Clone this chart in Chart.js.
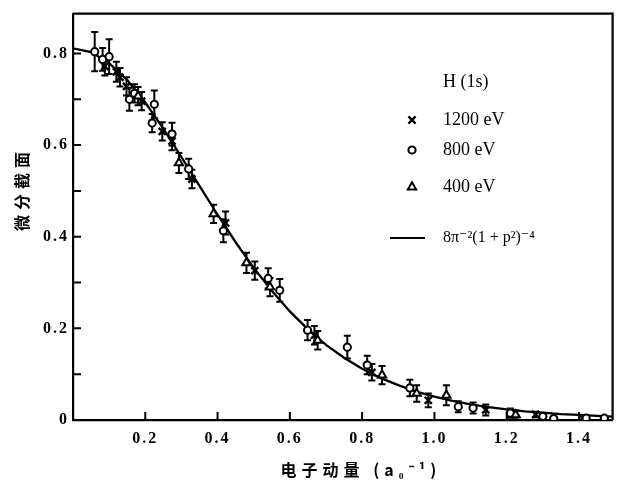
<!DOCTYPE html>
<html><head><meta charset="utf-8">
<script src="https://cdn.jsdelivr.net/npm/chart.js@4/dist/chart.umd.min.js"></script>
<style>html,body{margin:0;padding:0;background:#fff;}canvas{display:block;}</style>
</head><body>
<canvas id="c" width="620" height="480"></canvas>
<script>
// ---- data ----
const curveP = [0,0.05,0.1,0.15,0.2,0.25,0.3,0.35,0.4,0.45,0.5,0.55,0.6,0.65,0.7,0.75,0.8,0.85,0.9,0.95,1.0,1.05,1.1,1.15,1.2,1.25,1.3,1.35,1.4,1.45,1.5];
const curveV = [0.811,0.803,0.779,0.742,0.693,0.636,0.574,0.511,0.448,0.388,0.332,0.282,0.237,0.198,0.164,0.136,0.112,0.092,0.076,0.062,0.051,0.042,0.034,0.028,0.023,0.019,0.016,0.013,0.011,0.009,0.007];

const p1200 = [0.088,0.12,0.13,0.148,0.19,0.247,0.274,0.329,0.422,0.503,0.668,0.827,0.983,1.142,1.28,1.41];
const v1200 = [0.772,0.760,0.748,0.728,0.696,0.630,0.609,0.526,0.430,0.326,0.185,0.104,0.043,0.022,0.012,0.004];
const e1200 = [0.02,0.022,0.02,0.02,0.02,0.02,0.02,0.02,0.025,0.02,0.02,0.018,0.015,0.012,0.006,0.004];

const p800 = [0.06,0.082,0.10,0.156,0.17,0.219,0.225,0.274,0.32,0.416,0.54,0.572,0.649,0.759,0.814,0.932,1.066,1.107,1.21,1.30,1.33,1.42,1.47];
const v800 = [0.804,0.787,0.793,0.700,0.713,0.648,0.689,0.624,0.548,0.413,0.309,0.283,0.196,0.159,0.120,0.070,0.029,0.026,0.015,0.008,0.003,0.004,0.004];
const e800 = [0.043,0.025,0.038,0.025,0.02,0.02,0.03,0.025,0.022,0.025,0.022,0.025,0.022,0.025,0.02,0.018,0.012,0.012,0.01,0.006,0.004,0.004,0.004];

const p400 = [0.18,0.293,0.389,0.48,0.545,0.677,0.855,0.951,1.033,1.225];
const v400 = [0.707,0.561,0.450,0.343,0.290,0.174,0.098,0.058,0.054,0.011];
const e400 = [0.02,0.022,0.02,0.022,0.02,0.02,0.02,0.018,0.022,0.01];

const xTitle = '电子动量 (a₀⁻¹)';
const yTitle = '微分截面';
const legendTitle = 'H (1s)';
const seriesLabels = ['1200 eV','800 eV','400 eV'];
const curveLabel = '8π⁻²(1 + p²)⁻⁴';

// ---- build ----
const pts = (ps, vs) => ps.map((p,i)=>({x:p, y:vs[i]}));
const serif = '"Liberation Serif", "DejaVu Serif", serif';
const styles = [
  {pointStyle:'crossRot', radius:5, borderWidth:2.4, bg:'#000'},
  {pointStyle:'circle', radius:3.6, borderWidth:2, bg:'#fff'},
  {pointStyle:'triangle', radius:4.8, borderWidth:2, bg:'#fff'}
];

const spacing = {
  id:'spacing',
  beforeDraw(chart){ chart.ctx.letterSpacing = '2px'; }
};

const errorBars = {
  id:'errorBars',
  beforeDatasetsDraw(chart){
    const ctx = chart.ctx, ys = chart.scales.y;
    chart.data.datasets.forEach((ds, di)=>{
      if(!ds.errors) return;
      const meta = chart.getDatasetMeta(di);
      ctx.save();
      ctx.strokeStyle = '#000'; ctx.lineWidth = 2;
      meta.data.forEach((el, i)=>{
        const v = ds.data[i].y, e = ds.errors[i];
        const x = el.x, t = ys.getPixelForValue(v+e), b = ys.getPixelForValue(Math.max(0,v-e));
        ctx.beginPath();
        ctx.moveTo(x,t); ctx.lineTo(x,b);
        ctx.moveTo(x-3.5,t); ctx.lineTo(x+3.5,t);
        ctx.moveTo(x-3.5,b); ctx.lineTo(x+3.5,b);
        ctx.stroke();
      });
      ctx.restore();
    });
  }
};

const frame = {
  id:'frame',
  afterDraw(chart){
    const ctx = chart.ctx, a = chart.chartArea, xs = chart.scales.x, ys = chart.scales.y;
    ctx.save();
    ctx.letterSpacing = '0px';
    ctx.strokeStyle = '#000'; ctx.lineWidth = 2.2;
    ctx.beginPath();
    ctx.moveTo(a.left, a.top); ctx.lineTo(a.right, a.top); ctx.lineTo(a.right, a.bottom);
    ctx.stroke();
    ctx.lineWidth = 2;
    ctx.beginPath();
    ys.ticks.forEach(t=>{
      if (t.value <= 0) return;
      const y = ys.getPixelForValue(t.value);
      ctx.moveTo(a.left, y); ctx.lineTo(a.left+8, y);
    });
    xs.ticks.forEach(t=>{
      if (t.value <= 0) return;
      const x = xs.getPixelForValue(t.value);
      ctx.moveTo(x, a.bottom); ctx.lineTo(x, a.bottom-8);
    });
    ctx.stroke();

    // axis titles
    ctx.fillStyle = '#000';
    ctx.font = 'bold 16px "Noto Sans CJK SC"';
    ctx.letterSpacing = '5px';
    ctx.textAlign = 'center'; ctx.textBaseline = 'middle';
    ctx.fillText(xTitle, 361, 470);
    ctx.save();
    ctx.translate(22, 189); ctx.rotate(-Math.PI/2);
    ctx.fillText(yTitle, 0, 0);
    ctx.restore();
    ctx.letterSpacing = '0px';

    // legend
    ctx.textAlign = 'left';
    ctx.font = '18px ' + serif;
    ctx.fillText(legendTitle, 443, 82);
    const ly = [120, 150, 187];
    styles.forEach((s, i)=>{
      ctx.strokeStyle = '#000'; ctx.fillStyle = s.bg;
      ctx.lineWidth = s.borderWidth;
      Chart.helpers.drawPoint(ctx, {pointStyle:s.pointStyle, radius:s.radius, borderWidth:s.borderWidth, rotation:0}, 412, ly[i]);
      ctx.fillStyle = '#000';
      ctx.fillText(seriesLabels[i], 443, ly[i]);
    });
    ctx.lineWidth = 1.8;
    ctx.beginPath(); ctx.moveTo(390, 238); ctx.lineTo(425, 238); ctx.stroke();
    ctx.font = '16px ' + serif;
    ctx.fillText(curveLabel, 443, 238);
    ctx.restore();
  }
};

const mkSet = (label, ps, vs, es, s) => ({
  type:'scatter', label, data: pts(ps, vs), errors: es,
  pointStyle: s.pointStyle, pointRadius: s.radius, pointBorderWidth: s.borderWidth,
  pointBorderColor:'#000', pointBackgroundColor: s.bg, showLine:false
});

new Chart(document.getElementById('c'), {
  type:'scatter',
  data:{ datasets:[
    {type:'line', label:curveLabel, data: pts(curveP, curveV), borderColor:'#000', borderWidth:2.3,
     pointRadius:0, fill:false, tension:0, order:10},
    mkSet(seriesLabels[2], p400, v400, e400, styles[2]),
    mkSet(seriesLabels[1], p800, v800, e800, styles[1]),
    mkSet(seriesLabels[0], p1200, v1200, e1200, styles[0])
  ]},
  options:{
    responsive:false, animation:false, devicePixelRatio:1,
    layout:{padding:{top:12, right:2, left:0, bottom:0}},
    plugins:{legend:{display:false}, tooltip:{enabled:false}},
    scales:{
      x:{type:'linear', min:0, max:1.493,
        afterFit(s){ s.height = 60; },
        grid:{display:false, drawTicks:false},
        border:{display:true, color:'#000', width:2.2},
        ticks:{stepSize:0.2, includeBounds:false, padding:9, color:'#000', maxRotation:0,
          font:{family:serif, size:16, weight:'bold'},
          callback:(v)=> Math.abs(v) < 1e-9 ? '' : v.toFixed(1)}
      },
      y:{type:'linear', min:0, max:0.887,
        afterFit(s){ s.width = 73; },
        grid:{display:false, drawTicks:false},
        border:{display:true, color:'#000', width:2.2},
        ticks:{stepSize:0.1, includeBounds:false, padding:4, color:'#000',
          font:{family:serif, size:16, weight:'bold'},
          callback:(v)=>{ const k = Math.round(v*10); if (k % 2) return ''; return k===0 ? '0' : v.toFixed(1); }}
      }
    }
  },
  plugins:[spacing, errorBars, frame]
});
</script>
</body></html>
